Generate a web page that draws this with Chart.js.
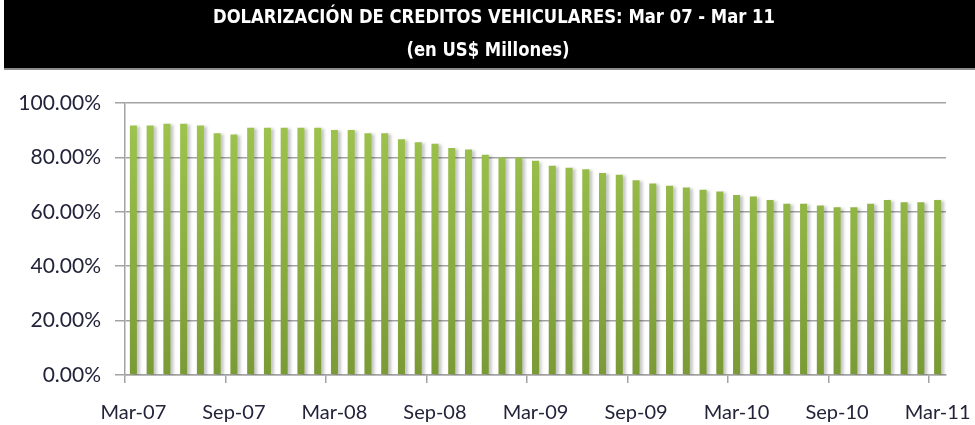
<!DOCTYPE html>
<html>
<head>
<meta charset="utf-8">
<title>Dolarización de créditos vehiculares</title>
<script src="https://cdn.jsdelivr.net/npm/chart.js@4/dist/chart.umd.min.js"></script>
<style>
  html, body { margin: 0; padding: 0; background: #fff; }
  #wrap { width: 975px; height: 425px; }
</style>
</head>
<body>
<div id="wrap"><canvas id="dolarChart" width="975" height="425"></canvas></div>
<script>
const titleLines = [
  "DOLARIZACIÓN DE CREDITOS VEHICULARES: Mar 07 - Mar 11",
  "(en US$ Millones)"
];

// months Mar-07 .. Mar-11
const months = [
  "Mar-07", "Abr-07", "May-07", "Jun-07", "Jul-07", "Ago-07",
  "Sep-07", "Oct-07", "Nov-07", "Dic-07", "Ene-08", "Feb-08",
  "Mar-08", "Abr-08", "May-08", "Jun-08", "Jul-08", "Ago-08",
  "Sep-08", "Oct-08", "Nov-08", "Dic-08", "Ene-09", "Feb-09",
  "Mar-09", "Abr-09", "May-09", "Jun-09", "Jul-09", "Ago-09",
  "Sep-09", "Oct-09", "Nov-09", "Dic-09", "Ene-10", "Feb-10",
  "Mar-10", "Abr-10", "May-10", "Jun-10", "Jul-10", "Ago-10",
  "Sep-10", "Oct-10", "Nov-10", "Dic-10", "Ene-11", "Feb-11",
  "Mar-11"
];

// % dolarizacion
const dollarShare = [
  91.7, 91.7, 92.4, 92.4, 91.7, 88.9,
  88.4, 90.9, 90.9, 90.9, 90.9, 90.9,
  90.1, 90.1, 88.9, 88.9, 86.7, 85.6,
  85.0, 83.5, 82.9, 81.0, 80.0, 80.0,
  78.8, 76.9, 76.2, 75.6, 74.3, 73.6,
  71.6, 70.4, 69.6, 68.9, 68.1, 67.5,
  66.2, 65.6, 64.3, 63.0, 63.0, 62.3,
  61.7, 61.7, 63.0, 64.3, 63.5, 63.5,
  64.3
];

const yTicks = [0, 20, 40, 60, 80, 100];
const labelEvery = 6;

const axisGray = "#a3a3a3";
const textColor = "#23233a";

Chart.defaults.font.family = "Lato, 'Open Sans', sans-serif";

// black banner with the two title lines (condensed bold look)
const headerBand = {
  id: "headerBand",
  beforeDraw(chart) {
    const ctx = chart.ctx;
    ctx.save();
    ctx.fillStyle = "#000";
    ctx.fillRect(4, 0, chart.width - 4, 68);
    ctx.fillStyle = "#8c8c8c";
    ctx.fillRect(4, 68, chart.width - 4, 2);

    ctx.font = "bold 20px 'DejaVu Sans', sans-serif";
    const sx = 562 / ctx.measureText(titleLines[0]).width;
    ctx.fillStyle = "#fff";
    ctx.textAlign = "center";
    ctx.textBaseline = "middle";
    ctx.save();
    ctx.translate(494, 18);
    ctx.scale(sx, 1);
    ctx.fillText(titleLines[0], 0, 0);
    ctx.restore();
    ctx.save();
    ctx.translate(488, 51);
    ctx.scale(sx, 1);
    ctx.fillText(titleLines[1], 0, 0);
    ctx.restore();
    ctx.restore();
  }
};

// soft excel-like shadow to the right of the bars
const barShadow = {
  id: "barShadow",
  beforeDatasetsDraw(chart) {
    const ctx = chart.ctx;
    ctx.save();
    ctx.shadowColor = "rgba(0,0,0,0.22)";
    ctx.shadowOffsetX = 3;
    ctx.shadowOffsetY = 1;
    ctx.shadowBlur = 3;
  },
  afterDatasetsDraw(chart) {
    chart.ctx.restore();
  }
};

function barFill(c) {
  const { ctx, chartArea } = c.chart;
  if (!chartArea) return "#9bbb59";
  const g = ctx.createLinearGradient(0, chartArea.top, 0, chartArea.bottom);
  g.addColorStop(0, "#a0c74f");
  g.addColorStop(1, "#7a9a36");
  return g;
}

const ctx = document.getElementById("dolarChart").getContext("2d");
new Chart(ctx, {
  type: "bar",
  data: {
    labels: months,
    datasets: [
      {
        label: "Dolarización",
        data: dollarShare,
        backgroundColor: barFill,
        borderWidth: 0,
        barPercentage: 0.42,
        categoryPercentage: 1.0
      }
    ]
  },
  options: {
    responsive: false,
    animation: false,
    layout: { padding: { top: 103, left: 0, right: 29, bottom: 0 } },
    plugins: {
      legend: { display: false },
      title: { display: false },
      tooltip: { enabled: false }
    },
    scales: {
      x: {
        offset: true,
        afterFit(scale) {
          scale.paddingLeft = 0;
          scale.paddingRight = 0;
          scale.height = 50;
        },
        grid: {
          offset: true,
          drawOnChartArea: false,
          drawTicks: true,
          tickLength: 8,
          lineWidth: 1.5,
          color: (c) => (c.index % labelEvery === 0 ? axisGray : "rgba(0,0,0,0)")
        },
        border: { display: true, color: axisGray, width: 1.5 },
        ticks: {
          autoSkip: false,
          maxRotation: 0,
          minRotation: 0,
          padding: 18,
          color: textColor,
          font: { size: 20 },
          callback: (v, i) => (i % labelEvery === 0 ? months[i] : "")
        }
      },
      y: {
        min: 0,
        max: 100,
        afterFit(scale) { scale.width = 125; },
        afterBuildTicks(scale) { scale.ticks = yTicks.map((v) => ({ value: v })); },
        grid: {
          color: axisGray,
          lineWidth: 1.5,
          drawTicks: true,
          tickLength: 10
        },
        border: { display: true, color: axisGray, width: 1.5 },
        ticks: {
          padding: 14,
          color: textColor,
          font: { size: 21 },
          callback: (v) => v.toFixed(2) + "%"
        }
      }
    }
  },
  plugins: [headerBand, barShadow]
});
</script>
</body>
</html>
